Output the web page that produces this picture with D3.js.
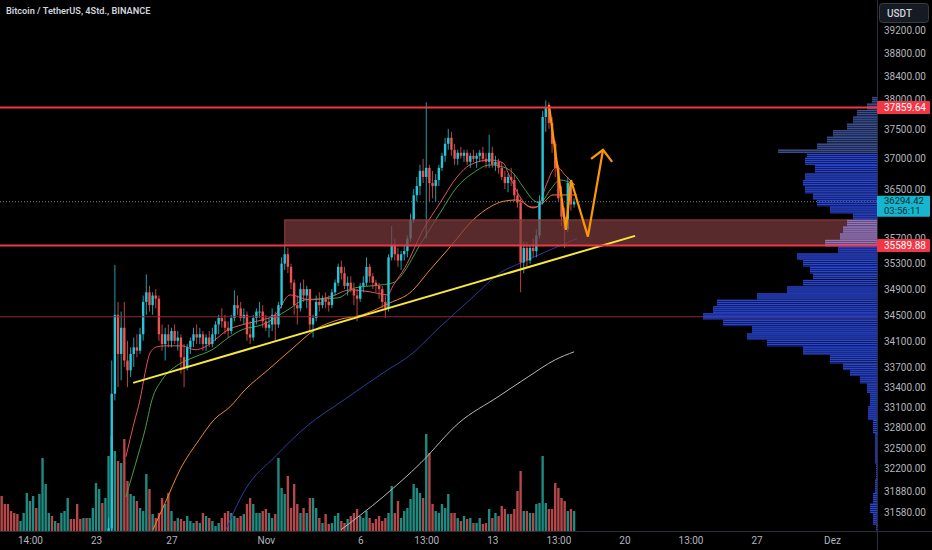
<!DOCTYPE html>
<html>
<head>
<meta charset="utf-8">
<script src="https://cdn.jsdelivr.net/npm/d3@7/dist/d3.min.js"></script>
<style>
  html, body { margin: 0; background: #000; }
  svg { display: block; font-family: Roboto, "Noto Sans", sans-serif; }
</style>
</head>
<body>
<svg id="chart" width="932" height="550"></svg>
<script>
// ---- data ----
// 4h bars, bar 0 = 2023-10-18 00:00 UTC
const firstBar = 34
const firstOpen = 30950
const highs = [31500,33800,35280,34700,34550,34700,34100,34000,34150,34200,34300,34800,35130,34950,34850,34900,
  34800,34350,34300,34350,34300,34350,34250,34200,34050,34050,34150,34300,34350,34300,34250,34200,34250,34300,
  34400,34500,34600,34500,34400,34500,34880,34800,34700,34600,34550,34400,34500,34600,34700,34650,34500,34450,
  34600,34550,34700,35400,35600,35550,35300,35050,34800,35000,35050,34950,34900,34500,34800,34850,34800,34850,
  34800,34900,35050,35300,35350,35250,35100,35100,35000,34900,35000,35100,35400,35300,35150,35050,35000,34950,
  34800,35450,35900,35700,35550,35500,35600,35750,36100,36500,36700,36900,37000,37950,36900,36800,36750,36900,
  37100,37350,37500,37450,37250,37150,37200,37150,37150,37100,37150,37100,37150,37200,37100,37400,37200,37050,
  37000,36950,36800,36750,36850,36750,36500,36350,35650,35650,35600,35700,35850,36400,37800,37980,37950,37700,
  37300,36900,36550,36200,36700,36650,36350]
const lows = [30850,31200,33200,33400,33500,33700,33400,33550,33700,33850,33900,34100,34500,34550,34500,34600,
  34100,33950,33800,34000,34000,34050,33950,33600,33400,33650,33900,34000,34050,34050,33950,33950,34000,34000,
  34100,34200,34300,34200,34150,34200,34400,34500,34400,34350,34100,34050,34100,34350,34450,34300,34250,34150,
  34250,34100,34300,34600,35200,35150,34900,34500,34350,34550,34700,34600,34250,34150,34400,34550,34600,34600,
  34550,34600,34800,34950,35050,34900,34800,34850,34650,34400,34700,34850,34950,35000,34900,34850,34750,34600,
  34450,34550,35350,35350,35250,35200,35350,35400,35650,35950,36300,36400,36600,35700,36300,36350,36300,36550,
  36800,36950,37150,37050,36900,36900,37000,36950,36900,36850,36950,36850,36950,36950,36850,36850,36850,36800,
  36750,36650,36500,36450,36550,36300,36200,34850,35150,35250,35300,35400,35400,35700,36250,37450,37500,37100,
  36700,36300,35900,35550,35800,36150,36200]
const closes = [31350,33300,34500,33900,34300,33800,33650,33900,34000,33950,34200,34700,34850,34650,34800,34750,
  34200,34050,34200,34100,34250,34100,34150,33850,33700,34000,34100,34200,34150,34200,34050,34150,34050,34200,
  34350,34450,34400,34300,34250,34450,34650,34600,34450,34500,34200,34150,34450,34550,34550,34400,34300,34350,
  34500,34350,34650,35300,35450,35250,35000,34650,34600,34900,34800,34900,34350,34450,34700,34650,34750,34700,
  34650,34850,35000,35250,35150,34950,35000,34900,34800,34750,34950,35000,35250,35100,35000,34950,34900,34700,
  34600,35400,35600,35450,35350,35450,35500,35700,36000,36400,36550,36800,36700,36850,36600,36550,36650,36850,
  37050,37250,37350,37150,37000,37100,37050,37100,36950,37050,37000,37050,37100,37000,36950,37100,36900,36950,
  36850,36700,36600,36700,36650,36400,36280,35320,35550,35350,35550,35500,35750,36300,37700,37850,37600,37250,
  36850,36350,36050,35850,36600,36250,36294.42]

// volume in thousand BTC, bars 0..182
const volumes = [10.5,8.1,8.1,6,5.4,5.1,3,5.4,11.4,9, 10.5,6.9,11.1,21.9,14.1,5.4,4.5,3,2.4,5.4,
  6,9.9,3.6,3.6,8.1,3.6,3.9,3.9,3.9,6.9, 14.4,12.6,8.4,9.9,22.5,28.5,24,21,20.4,27.6,
  15,11.1,10.5,9,6.9,6,17.1,12.6,5.1,3.9, 5.4,9.9,8.1,11.4,6,3,3.9,3.6,3,4.5,
  3,2.4,3,2.4,5.4,4.5,3.9,3,1.5,2.4, 3.9,5.4,6,5.4,4.5,3.9,4.5,5.1,8.1,9.9,
  8.1,5.4,5.4,6,6.6,5.4,3.9,5.1,21.9,12.9, 11.1,16.5,6.9,14.1,8.1,5.4,6.9,5.4,9.9,9.9,
  6.9,3.9,2.4,5.1,2.1,2.4,4.5,5.4,3,2.4, 3.6,4.5,5.4,6.6,4.5,3.9,6,3.9,2.4,3.6,
  4.5,3,3.9,5.4,13.5,5.4,9,3.9,6,6.9, 9.6,14.1,12.9,11.4,9.9,29.1,23.4,8.1,6,5.4,
  8.1,6.9,11.1,5.4,5.4,3.9,3,4.5,3.6,3.9, 2.4,2.4,3.9,2.1,2.4,6.6,3.9,5.4,4.5,7.5,
  6.6,5.1,5.1,6.6,12,18,6,6,5.4,5.4, 8.1,8.4,22.5,8.4,6.6,6.6,14.4,12.9,9.9,9,
  6,6.6,6]
// direction of the volume bars whose candles are below the visible range (bars 0..33)
const earlyVolDir = "rrrrrrtttttrttttrtrtttrrrrtrttttrt"

// moving averages: [bar, price]
const maFast = [[39.5,32372],[42.1,32869],[44,33210],[45.6,33614],[47.2,33916],[49.4,34008],[52,34023],[57.3,34023],
  [61.5,33963],[64.7,34008],[67.8,34115],[72,34269],[76.4,34345],[82.8,34422],[87,34499],[91.7,34810],[98,34732],
  [104.4,34779],[110.8,34888],[117.1,34857],[122.8,34810],[124.4,34950],[128.2,35235],[134,35839],[139.4,36276],
  [144.8,36700],[148.9,36899],[155.3,36981],[159.4,36932],[161.6,36700],[164.8,36373],[168,36210],[170.2,36210],
  [173.4,36602],[175.3,36816],[176.6,36865],[179.1,36733],[182.3,36569]]
const maMid = [[39.5,31796],[43.4,32400],[45.6,32766],[47.8,33210],[51,33509],[56.1,33734],[61.5,33856],[66.9,33963],
  [72,34145],[76.4,34269],[82.8,34345],[91,34577],[96.5,34732],[107,34763],[112.4,34920],[120.9,34967],[124.4,34998],
  [134,35679],[139.4,36113],[144.8,36536],[149.9,36766],[155.3,36898],[159.4,36865],[162.6,36766],[165.8,36536],
  [169,36324],[171.2,36276],[174.4,36487],[177.5,36651],[182.3,36569]]
const maSlow = [[48.1,31330],[52,31711],[56.7,32184],[62.8,32620],[67.5,32913],[72.6,33105],[77.4,33359],[84.7,33659],
  [92,33963],[99.6,34269],[107,34422],[114.6,34499],[123.5,34686],[129.8,34842],[136.2,35203],[142.6,35567],
  [149.9,36000],[155.3,36210],[159.4,36300],[163.9,36324],[169,36194],[172.1,36276],[175.3,36405],[182.9,36405]]
const ma100 = [[71.3,31330],[77.4,31896],[86.9,32372],[96.8,32810],[108.9,33210],[121.3,33614],[130.8,33916],
  [138.4,34269],[149.9,34779],[158.5,35155],[165.8,35328],[174.4,35520],[182.9,35700]]
const ma200 = [[107.9,31330],[121.3,31796],[133.3,32285],[145.4,32869],[157.8,33254],[167.4,33554],[176,33811],[182,33932]]

// visible range volume profile (row price, volume)
const vpPrice = [37990,37870,37770,37650,37530,37430,37310,37200,37110,37060,36980,36820,36700,36600,36490,36370,
  36280,36160,36050,35950,35840,35730,35630,35520,35410,35310,35200,35090,35000,34890,34780,34690,34580,34470,
  34380,34270,34160,34070,33960,33810,33700,33610,33510,33400,33210,33020,32810,32620,32400,32140,31950,31750,
  31650,31470,31330]
const vpVol = [0.5,1.0,2.0,2.4,3.0,4.4,5.0,6.0,9.9,7.0,7.2,6.2,7.2,7.4,7.2,6.4,6.0,4.7,2.4,3.0,3.4,3.7,5.2,3.9,
  8.0,7.4,6.7,6.4,7.4,9.0,12.0,16.0,16.4,17.4,15.4,12.5,13.0,11.0,7.4,4.7,3.4,2.7,1.7,1.0,0.7,0.9,0.4,0.2,0.2,
  0.1,0.2,0.4,0.7,0.4,0.1]

// price levels and drawings
const resistance = 37859.64
const support = 35589.88
const lastPrice = 36294.42
const countdown = "03:56:11"
const pocLine = 34470
const zone = {fromBar: 90, low: 35589.88, high: 36000}
const trendLine = [[41.8,33463],[201.4,35743]]
const pathDrawing = [[174,37905],[179.4,35840],[181,36650],[186.4,35730],[191.2,37150]]
const arrowHead = [[187.4,37000],[191.2,37150],[194.1,36950]]

const priceTicks = [39200,38800,38400,38000,37500,37000,36500,35700,35300,34900,34500,34100,33700,33400,33100,
  32800,32500,32200,31880,31580]
const timeTicks = ["2023-10-19T12:00Z","2023-10-23T00:00Z","2023-10-27T00:00Z","2023-11-01T00:00Z","2023-11-06T00:00Z",
  "2023-11-09T12:00Z","2023-11-13T00:00Z","2023-11-16T12:00Z","2023-11-20T00:00Z","2023-11-23T12:00Z",
  "2023-11-27T00:00Z","2023-12-01T00:00Z"]
const timeLabels = ["14:00","23","27","Nov","6","13:00","13","13:00","20","13:00","27","Dez"]

// ---- layout ----
const width = 932, height = 550
const plotRight = 877, plotBottom = 531
const BAR_MS = 4 * 3600e3
const T0 = Date.UTC(2023, 9, 18)
const barTime = i => new Date(T0 + i * BAR_MS)

const upColor = "#26c6da", downColor = "#ef5350"
const volUp = "#1f8a80", volDown = "#b4474a"

const svg = d3.select("#chart")
svg.append("rect").attr("width", width).attr("height", height).attr("fill", "#000")

const x = d3.scaleUtc()
  .domain([new Date(T0), new Date(Date.UTC(2023, 11, 1))])
  .range([1.65, 832])
const y = d3.scaleLog().domain([31580, 39200]).range([512, 30])
const vy = d3.scaleLinear().domain([0, 30]).range([plotBottom, plotBottom - 100])
const vpX = d3.scaleLinear().domain([0, d3.max(vpVol)]).range([0, 174])
const barStep = x(barTime(1)) - x(barTime(0))

svg.append("clipPath").attr("id", "plotClip")
  .append("rect").attr("x", 0).attr("y", 0).attr("width", plotRight).attr("height", plotBottom)

const plot = svg.append("g").attr("clip-path", "url(#plotClip)")

// candles
const candles = closes.map((c, k) => ({
  i: firstBar + k,
  o: k ? closes[k - 1] : firstOpen,
  h: highs[k], l: lows[k], c: c
}))
const isUp = i => i < firstBar ? earlyVolDir[i] === "t" : candles[i - firstBar].c >= candles[i - firstBar].o

// volume
plot.append("g").selectAll("rect")
  .data(volumes)
  .join("rect")
  .attr("x", (d, i) => x(barTime(i)) - barStep * 0.38)
  .attr("width", barStep * 0.76)
  .attr("y", d => vy(d))
  .attr("height", d => plotBottom - vy(d))
  .attr("fill", (d, i) => isUp(i) ? volUp : volDown)

// moving averages
const maLine = d3.line()
  .x(d => x(barTime(d[0])))
  .y(d => y(d[1]))
  .curve(d3.curveMonotoneX)
const maSpecs = [
  [ma200, "#b8b8b8"],
  [ma100, "#2c3d9c"],
  [maSlow, "#f08a24"],
  [maMid, "#43a047"],
  [maFast, "#e8505c"]
]
maSpecs.forEach(([data, color]) => {
  plot.append("path")
    .attr("d", maLine(data))
    .attr("fill", "none")
    .attr("stroke", color)
    .attr("stroke-width", 1)
})

// candle wicks and bodies
const cg = plot.append("g")
cg.selectAll("line")
  .data(candles)
  .join("line")
  .attr("x1", d => x(barTime(d.i))).attr("x2", d => x(barTime(d.i)))
  .attr("y1", d => y(d.h)).attr("y2", d => y(d.l))
  .attr("stroke", d => d.c >= d.o ? upColor : downColor)
  .attr("stroke-width", 0.8)
cg.selectAll("rect")
  .data(candles)
  .join("rect")
  .attr("x", d => x(barTime(d.i)) - barStep * 0.38)
  .attr("width", barStep * 0.76)
  .attr("y", d => y(Math.max(d.o, d.c)))
  .attr("height", d => Math.max(1, Math.abs(y(d.o) - y(d.c))))
  .attr("fill", d => d.c >= d.o ? upColor : downColor)

// current price dotted line
plot.append("line")
  .attr("x1", 0).attr("x2", plotRight)
  .attr("y1", y(lastPrice)).attr("y2", y(lastPrice))
  .attr("stroke", "#7a7d86").attr("stroke-width", 1)
  .attr("stroke-dasharray", "1,2")

// zone rectangle
plot.append("rect")
  .attr("x", x(barTime(zone.fromBar)))
  .attr("width", plotRight - x(barTime(zone.fromBar)))
  .attr("y", y(zone.high))
  .attr("height", y(zone.low) - y(zone.high))
  .attr("fill", "#7c3a3d").attr("fill-opacity", 0.72)
  .attr("stroke", "#9a3b40").attr("stroke-width", 1)

// volume profile
const vpRows = vpPrice.map((p, k) => {
  const yc = y(p)
  const top = k ? (y(vpPrice[k - 1]) + yc) / 2 : yc - 3
  const bottom = k < vpPrice.length - 1 ? (y(vpPrice[k + 1]) + yc) / 2 : yc + 3
  return {p, v: vpVol[k], top, bottom}
})
const vpColor = p => (p >= zone.low && p <= zone.high) ? "#8c76c4"
  : p > 37100 ? "#3a4f92" : "#2945d2"
const vpg = svg.append("g")
vpRows.forEach(r => {
  for (let yy = r.top; yy < r.bottom - 0.4; yy += 2) {
    vpg.append("rect")
      .attr("x", plotRight - vpX(r.v))
      .attr("width", vpX(r.v))
      .attr("y", yy)
      .attr("height", Math.min(1.5, r.bottom - yy))
      .attr("fill", vpColor(r.p))
  }
})

// horizontal levels
plot.append("line")
  .attr("x1", 0).attr("x2", plotRight)
  .attr("y1", y(pocLine)).attr("y2", y(pocLine))
  .attr("stroke", "#8c2a30").attr("stroke-width", 1)
;[resistance, support].forEach(p => {
  svg.append("line")
    .attr("x1", 0).attr("x2", plotRight)
    .attr("y1", y(p)).attr("y2", y(p))
    .attr("stroke", "#f23645").attr("stroke-width", 2)
})

// drawings
const drawLine = d3.line().x(d => x(barTime(d[0]))).y(d => y(d[1]))
plot.append("path")
  .attr("d", drawLine(trendLine))
  .attr("fill", "none").attr("stroke", "#f7e73c").attr("stroke-width", 2)
plot.append("path")
  .attr("d", drawLine(pathDrawing))
  .attr("fill", "none").attr("stroke", "#ff9800").attr("stroke-width", 2.2)
  .attr("stroke-linejoin", "miter")
plot.append("path")
  .attr("d", drawLine(arrowHead))
  .attr("fill", "none").attr("stroke", "#ff9800").attr("stroke-width", 2.2)

// axes frame
svg.append("line").attr("x1", plotRight + 0.5).attr("x2", plotRight + 0.5)
  .attr("y1", 0).attr("y2", height).attr("stroke", "#2a2e39")
svg.append("line").attr("x1", 0).attr("x2", width)
  .attr("y1", plotBottom + 0.5).attr("y2", plotBottom + 0.5).attr("stroke", "#2a2e39")

// price axis
const yAxisGroup = svg.append("g")
  .attr("transform", "translate(" + plotRight + ",0)")
  .call(d3.axisRight(y)
    .tickValues(priceTicks)
    .tickFormat(d3.format(".2f"))
    .tickSize(0)
    .tickPadding(7))
yAxisGroup.select(".domain").remove()
yAxisGroup.selectAll("text")
  .style("font-size", "10px")
  .style("fill", "#b2b5be")
  .style("font-family", "Roboto, sans-serif")

// time axis
const xAxisGroup = svg.append("g")
  .attr("transform", "translate(0," + plotBottom + ")")
  .call(d3.axisBottom(x)
    .tickValues(timeTicks.map(t => new Date(t)))
    .tickFormat((d, k) => timeLabels[k])
    .tickSize(0)
    .tickPadding(6))
xAxisGroup.select(".domain").remove()
xAxisGroup.selectAll("text")
  .style("font-size", "10px")
  .style("fill", "#b2b5be")
  .style("font-family", "Roboto, sans-serif")

// price labels on the axis (drawn over the tick labels, as in the platform)
const priceTag = (p, fill, color) => {
  const g = svg.append("g").attr("transform", "translate(" + plotRight + "," + y(p) + ")")
  g.append("rect").attr("x", 0).attr("y", -6.5).attr("width", 53).attr("height", 13)
    .attr("rx", 1).attr("fill", fill)
  g.append("text").attr("x", 7).attr("y", 0).attr("dy", "0.34em")
    .style("font-size", "10px").style("fill", color).text(d3.format(".2f")(p))
}
priceTag(resistance, "#f23645", "#ffffff")
priceTag(support, "#f23645", "#ffffff")

const lastTag = svg.append("g").attr("transform", "translate(" + plotRight + "," + y(lastPrice) + ")")
lastTag.append("rect").attr("x", 0).attr("y", -6).attr("width", 53).attr("height", 21)
  .attr("rx", 1).attr("fill", "#16b6cf")
lastTag.append("text").attr("x", 7).attr("y", -0.5).attr("dy", "0.34em")
  .style("font-size", "9.5px").style("fill", "#0d2a30").text(d3.format(".2f")(lastPrice))
lastTag.append("text").attr("x", 7).attr("y", 9.5).attr("dy", "0.34em")
  .style("font-size", "9.5px").style("fill", "#0d2a30").text(countdown)

// currency box
svg.append("rect").attr("x", 879.5).attr("y", 3.5).attr("width", 49).attr("height", 19)
  .attr("rx", 3).attr("fill", "#161a22").attr("stroke", "#363a45")
svg.append("text").attr("x", 887).attr("y", 13).attr("dy", "0.35em")
  .style("font-size", "10px").style("fill", "#d1d4dc").style("font-weight", 500).text("USDT")

// title
svg.append("text").attr("x", 6).attr("y", 11).attr("dy", "0.35em")
  .style("font-size", "9.2px").style("fill", "#d1d4dc").style("font-weight", 600)
  .text("Bitcoin / TetherUS, 4Std., BINANCE")
</script>
</body>
</html>
